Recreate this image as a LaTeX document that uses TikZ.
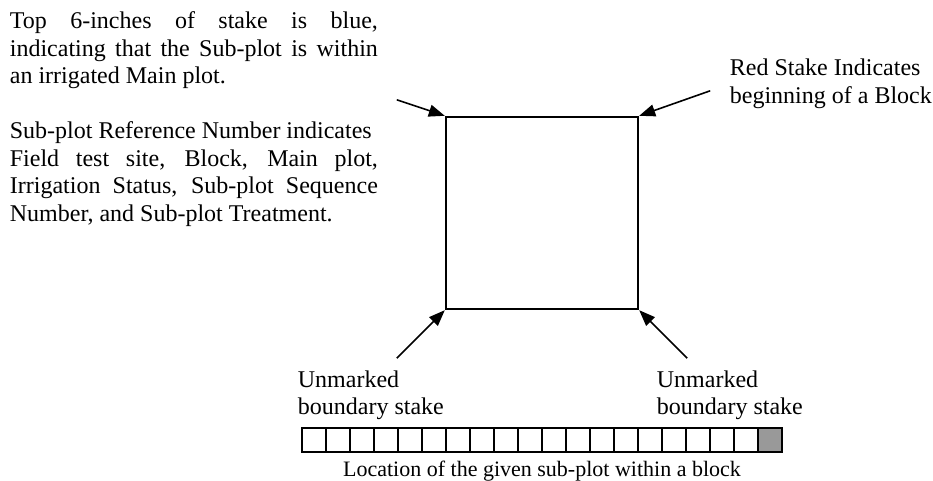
\documentclass[tikz,border=0pt]{standalone}
\usepackage{fontspec}
\setmainfont{Liberation Serif}
\usetikzlibrary{arrows.meta}

\tikzset{
  plotbox/.style={draw,line width=1.2pt,minimum size=96pt,inner sep=0pt},
  cellbox/.style={draw,line width=1pt,minimum size=12pt,inner sep=0pt},
  pointer/.style={line width=0.8pt,-{Triangle[length=8pt,width=6pt]}},
  note/.style={inner sep=0pt,anchor=base west,font=\fontsize{12}{13.75}\selectfont},
}

\begin{document}
\begin{tikzpicture}[x=0.5pt,y=-0.5pt]
\useasboundingbox (0,0) rectangle (933,481);

\node[note,text width=184pt,align=justify] at (9.5,29) (blue) {Top 6-inches of stake is blue,\linebreak indicating that the Sub-plot is within\linebreak an irrigated Main plot.};
\node[note,text width=184pt,align=justify] at (9.5,139) (refno) {Sub-plot Reference Number indicates\\ Field test site, Block, Main plot,\linebreak Irrigation Status, Sub-plot Sequence\linebreak Number, and Sub-plot Treatment.};
% base of a two-line node is its second line
\node[note,align=left] at (729.5,103.5) (red) {Red Stake Indicates\\beginning of a Block};
\node[note,align=left] at (297.5,415) (ul) {Unmarked\\boundary stake};
\node[note,align=left] at (656.5,415) (ur) {Unmarked\\boundary stake};

\node[plotbox] at (542,213) (sq) {};
\path (sq.north west) +(-48,-16) coordinate (tlt);
\path (sq.north east) +(71,-25)  coordinate (trt);
\path (sq.south west) +(-48,48)  coordinate (blt);
\path (sq.south east) +(48,48)   coordinate (brt);

\draw[pointer] (tlt) -- (sq.north west);
\draw[pointer] (trt) -- (sq.north east);
\draw[pointer] (blt) -- (sq.south west);
\draw[pointer] (brt) -- (sq.south east);

\foreach \i in {1,...,20}
  {\node[cellbox] at (290+24*\i,440) (c\i) {};}
\node[cellbox,fill=gray!80] at (c20) {};

\node[inner sep=0pt,anchor=base,font=\fontsize{11}{13}\selectfont] at (542,476) (loc) {Location of the given sub-plot within a block};

\end{tikzpicture}
\end{document}
